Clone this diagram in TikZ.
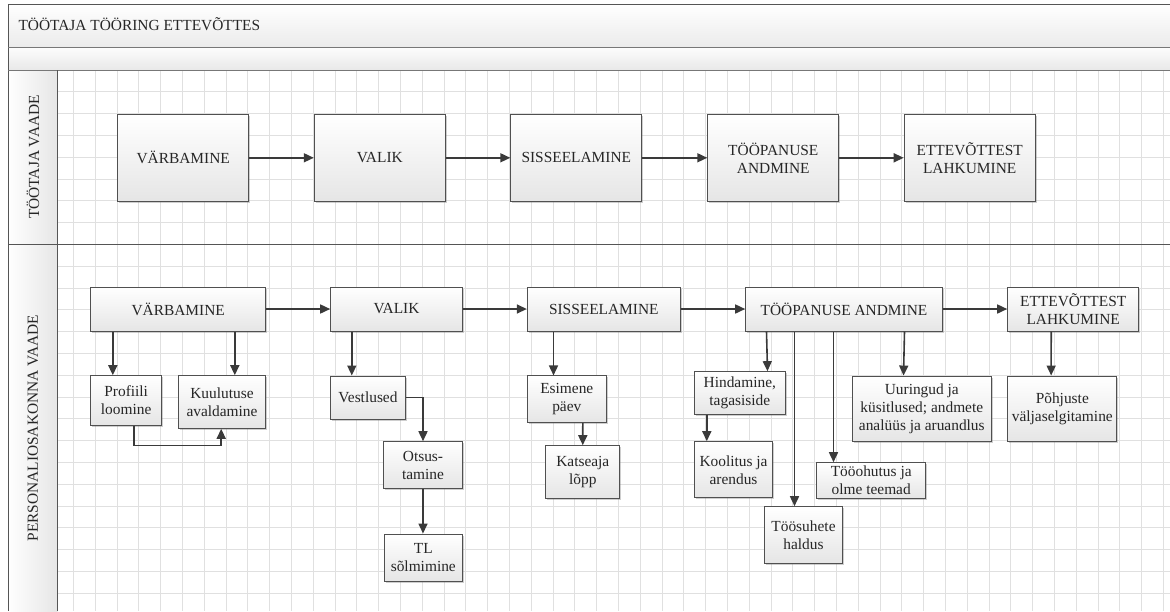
\documentclass[tikz,border=0pt]{standalone}
\usepackage{fontspec}
\setmainfont{Liberation Serif}
\newfontfamily\labelfont{Liberation Serif}
\usetikzlibrary{arrows.meta,shadows}
\definecolor{ink}{HTML}{262626}
\definecolor{edge}{HTML}{505050}
\definecolor{wire}{HTML}{3A3A3A}
\definecolor{gridc}{HTML}{E0E0E0}
\definecolor{frame}{HTML}{555555}
\begin{document}
\begin{tikzpicture}[x=1pt,y=-1pt,
  every node/.style={font=\labelfont\fontsize{15.4}{18}\selectfont, text=ink},
  box/.style={draw=edge, line width=1pt, top color=white, bottom color=black!10,
    align=center, inner sep=2pt,
    drop shadow={shadow xshift=1.5pt, shadow yshift=-1.5pt, opacity=0.35, fill=black!55}},
  arr/.style={draw=wire, line width=1.6pt, -{Triangle[length=10pt,width=9pt]}},
  lanelabel/.style={rotate=90, anchor=center}
]
\useasboundingbox (0,0) rectangle (1170,611);

% ---- pool frame and bands ----
\shade[top color=white, bottom color=black!8] (8,4) rectangle (1170,47.5);
\shade[top color=black!1, bottom color=black!9] (8,47.5) rectangle (1170,70);
\shade[left color=white, right color=black!10] (8,70) rectangle (57.7,611);

% ---- background grid of the lanes ----
\begin{scope}
  \clip (57.7,70) rectangle (1170,611);
  \foreach \k in {3,...,53} \draw[gridc, line width=0.9pt] ({8+21.8*\k},70) -- ({8+21.8*\k},611);
  \foreach \k in {1,...,24} \draw[gridc, line width=0.9pt] (57.7,{70+21.8*\k}) -- (1170,{70+21.8*\k});
\end{scope}

% ---- frame lines ----
\draw[frame, line width=1pt] (1170,4) -- (8,4) -- (8,611);
\draw[frame!80, line width=1pt] (8,47.5) -- (1170,47.5);
\draw[frame!80, line width=1pt] (8,70) -- (1170,70);
\draw[frame, line width=1pt] (57.7,70) -- (57.7,611);
\draw[frame, line width=1pt] (8,244.3) -- (1170,244.3);

% ---- titles ----
\node[anchor=base west] (title) at (15,30) {TÖÖTAJA TÖÖRING ETTEVÕTTES};
\node[lanelabel] (laneA) at (33,157) {TÖÖTAJA VAADE};
\node[lanelabel] (laneB) at (33,428) {PERSONALIOSAKONNA VAADE};

% ---- employee view ----
\begin{scope}[every node/.append style={box, minimum width=131pt, minimum height=87pt}]
  \node (tV)  at (183.2,157.8) {VÄRBAMINE};
  \node (tVA) at (379.8,157.8) {VALIK};
  \node (tS)  at (576.3,157.8) {SISSEELAMINE};
  \node (tT)  at (773.3,157.8) {TÖÖPANUSE\\ANDMINE};
  \node (tE)  at (969.7,157.8) {ETTEVÕTTEST\\LAHKUMINE};
\end{scope}
\draw[arr] (tV) -- (tVA);
\draw[arr] (tVA) -- (tS);
\draw[arr] (tS) -- (tT);
\draw[arr] (tT) -- (tE);

% ---- HR department view: main stages ----
\begin{scope}[every node/.append style={box, minimum height=44pt}]
  \node[minimum width=175pt]   (bV)  at (178.2,309) {VÄRBAMINE};
  \node[minimum width=131.6pt] (bVA) at (396.5,309) {VALIK};
  \node[minimum width=153pt]   (bS)  at (603.8,309) {SISSEELAMINE};
  \node[minimum width=196.6pt] (bT)  at (844,309)   {TÖÖPANUSE ANDMINE};
  \node[minimum width=131pt]   (bE)  at (1073.2,309) {ETTEVÕTTEST\\LAHKUMINE};
\end{scope}
\draw[arr] (bV) -- (bVA);
\draw[arr] (bVA) -- (bS);
\draw[arr] (bS) -- (bT);
\draw[arr] (bT) -- (bE);

% ---- HR department view: activities ----
\node[box, minimum width=71pt,   minimum height=49.6pt] (prof) at (126.2,400.5) {Profiili\\loomine};
\node[box, minimum width=87.4pt, minimum height=52.6pt] (kuul) at (222,402)     {Kuulutuse\\avaldamine};
\node[box, minimum width=74.6pt, minimum height=43pt]   (vest) at (368,397.5)   {Vestlused};
\node[box, minimum width=79pt,   minimum height=46.6pt] (otsu) at (423,465)     {Otsus-\\tamine};
\node[box, minimum width=78pt,   minimum height=47pt]   (tlso) at (423.3,557.5) {TL\\sõlmimine};
\node[box, minimum width=79pt,   minimum height=46.7pt] (esim) at (566.8,399.3) {Esimene\\päev};
\node[box, minimum width=74.3pt, minimum height=52.6pt] (kats) at (582.8,472)   {Katseaja\\lõpp};
\node[box, minimum width=91pt,   minimum height=43.3pt] (hind) at (739.8,393.3) {Hindamine,\\tagasiside};
\node[box, minimum width=78.4pt, minimum height=56.3pt] (kool) at (733.5,469.8) {Koolitus ja\\arendus};
\node[box, minimum width=78.4pt, minimum height=56.6pt] (toos) at (803.5,535)   {Töösuhete\\haldus};
\node[box, minimum width=109pt,  minimum height=35.6pt] (tooo) at (871.2,480.5) {Tööohutus ja\\olme teemad};
\node[box, minimum width=139pt,  minimum height=65.3pt] (uuri) at (921.8,408.7) {Uuringud ja\\küsitlused; andmete\\analüüs ja aruandlus};
\node[box, minimum width=109.3pt,minimum height=65.3pt] (pohj) at (1062.3,408.7) {Põhjuste\\väljaselgitamine};

% ---- activity connectors ----
\draw[arr] ([xshift=22.6]bV.south west) -- ([xshift=22.6]prof.north west);
\draw[arr] ([xshift=-31.4]bV.south east) -- ([xshift=-31.4]kuul.north east);
\draw[arr] ([xshift=43.6]prof.south west) -- ++(0,19.7) -| ([xshift=43.4]kuul.south west);
\draw[arr] ([xshift=21.6]bVA.south west) -- ([xshift=21.6]vest.north west);
\draw[arr] (vest.east) -| (otsu.north);
\draw[arr] (otsu.south) -- (otsu.south |- tlso.north);
\draw[arr] ([xshift=26.7]bS.south west) -- ([xshift=26.7]esim.north west);
\draw[arr] ([xshift=56]esim.south west) -- ([xshift=37.6]kats.north west);
\draw[arr] ([xshift=21.3]bT.south west) -- ([xshift=-18.3]hind.north east);
\draw[arr] ([xshift=13]hind.south west) -- ([xshift=13]kool.north west);
\draw[arr] ([xshift=49.3]bT.south west) -- ([xshift=30.7]toos.north west);
\draw[arr] ([xshift=88.3]bT.south west) -- ([xshift=17.3]tooo.north west);
\draw[arr] ([xshift=-38.3]bT.south east) -- ([xshift=51.7]uuri.north west);
\draw[arr] ([xshift=44]bE.south west) -- ([xshift=44]pohj.north west);
\end{tikzpicture}
\end{document}
